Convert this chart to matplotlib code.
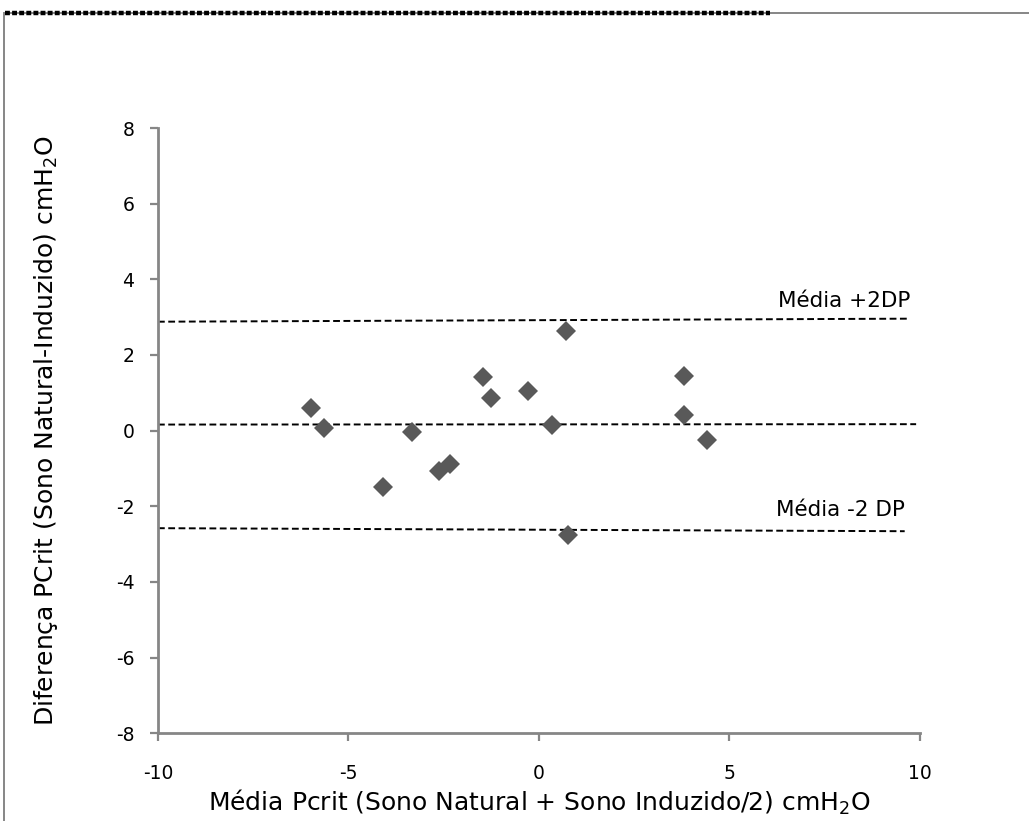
import matplotlib.pyplot as plt
from matplotlib.lines import Line2D
from matplotlib.patches import Rectangle

plt.rcParams['axes.unicode_minus'] = False

# Bland-Altman: mean of both Pcrit vs difference
media = [-5.98, -5.65, -4.08, -3.33, -2.63, -2.33, -1.48, -1.25, -0.28,
         0.33, 0.72, 0.76, 3.82, 3.82, 4.42]
diferenca = [0.60, 0.06, -1.49, -0.04, -1.06, -0.89, 1.42, 0.87, 1.04,
             0.16, 2.63, -2.75, 1.45, 0.40, -0.26]

# reference lines drawn by hand in the original (start/end x, start/end y)
linha_media_x = [-10, 9.9]
linha_media_y = [0.16, 0.17]
linha_sup_x = [-10, 9.7]
linha_sup_y = [2.88, 2.96]
linha_inf_x = [-10, 9.6]
linha_inf_y = [-2.58, -2.66]

xticks = [-10, -5, 0, 5, 10]
yticks = [-8, -6, -4, -2, 0, 2, 4, 6, 8]

spine_col = '#868686'

fig = plt.figure(figsize=(10.29, 8.21), dpi=100)
ax = fig.add_axes([0.1535, 0.107, 0.7405, 0.737])

# outer frame + dashed top edge
fig.add_artist(Rectangle((4 / 1029, -0.1), 1.2, 1.1 - 13 / 821,
                         transform=fig.transFigure, fill=False,
                         edgecolor=spine_col, lw=1.4, clip_on=False))
fig.add_artist(Line2D([5 / 1029, 770 / 1029], [1 - 13 / 821, 1 - 13 / 821],
                      transform=fig.transFigure, color='black', lw=3.2,
                      linestyle=(0, (1.1, 0.5))))

dash = (0, (3.5, 1.8))
ax.plot(linha_sup_x, linha_sup_y, color='black', lw=1.4, linestyle=dash, zorder=2)
ax.plot(linha_media_x, linha_media_y, color='black', lw=1.4, linestyle=dash, zorder=2)
ax.plot(linha_inf_x, linha_inf_y, color='black', lw=1.4, linestyle=dash, zorder=2)

ax.plot(media, diferenca, linestyle='none', marker='D', markersize=9.8,
        color='#595959', markeredgewidth=0, zorder=3)

ax.text(9.75, 3.43, 'Média +2DP', ha='right', va='center', fontsize=15.5)
ax.text(9.6, -2.1, 'Média -2 DP', ha='right', va='center', fontsize=15.5)

ax.set_xlim(-10, 10)
ax.set_ylim(-8, 8)
ax.set_xticks(xticks)
ax.set_yticks(yticks)
ax.tick_params(axis='both', labelsize=13.5, color=spine_col, width=1.6, length=6)
ax.tick_params(axis='y', pad=11)
ax.tick_params(axis='x', pad=16)

for s in ['top', 'right']:
    ax.spines[s].set_visible(False)
for s in ['left', 'bottom']:
    ax.spines[s].set_color(spine_col)
    ax.spines[s].set_linewidth(2)

ax.set_xlabel('Média Pcrit (Sono Natural + Sono Induzido/2) cmH$_2$O',
              fontsize=18, labelpad=4)
ax.set_ylabel('Diferença PCrit (Sono Natural-Induzido) cmH$_2$O',
              fontsize=18, labelpad=40)

fig.savefig('out.png', dpi=100)
